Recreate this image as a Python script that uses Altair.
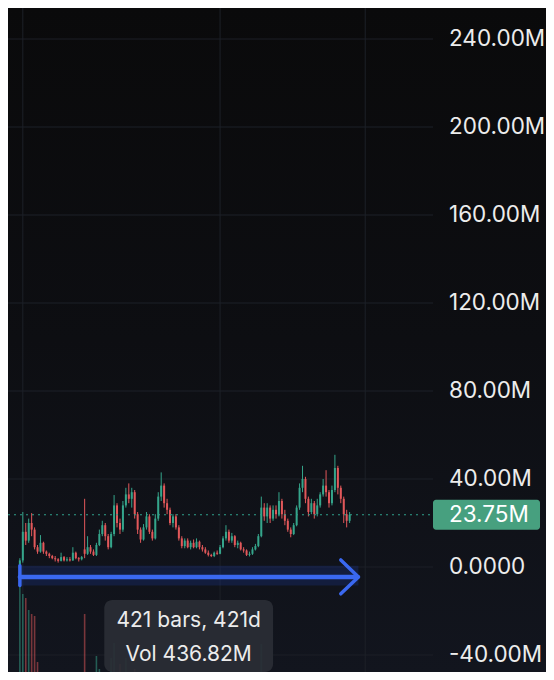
import altair as alt
import pandas as pd

# ---- candle data (price in millions) ----
opens = [0.3, 3, 16, 12, 20, 17, 9, 7, 11, 7, 6, 5, 4, 3.5, 2.8, 4.5, 3, 3.5, 3, 6.5,
         4, 3.5, 8, 6, 9, 7, 5.5, 10, 15, 19, 14, 9, 15, 28, 20, 17, 28, 33, 31, 34,
         24, 17, 12.5, 18, 23, 16, 13, 22, 32, 37, 29, 26, 20, 23, 18, 13, 9.5, 12, 9, 11,
         9, 11.5, 9, 8, 6.5, 5.5, 5, 6.5, 6, 9, 13, 16, 12, 14, 10, 11, 8, 7.5, 5.5, 6,
         8, 9.5, 14, 27, 23, 27, 22, 26, 24, 30, 24, 21, 17, 15, 19, 27, 36, 40, 31, 25,
         29, 24, 28, 33, 37, 34, 29, 35, 45, 36, 31, 24, 21]
highs = [4, 25, 20, 22, 24.5, 18, 10, 14.5, 11.5, 7.5, 6.5, 5.5, 5, 4, 6.5, 5, 4.5, 4.5, 9, 7,
         4.5, 5, 31, 14, 10, 8, 11, 17, 21, 20, 15, 16, 32.7, 29, 22, 30, 36, 38, 36, 35,
         25, 18, 19.5, 25, 24, 17, 24, 34, 43, 38, 31, 27, 24, 24, 19, 14, 13, 13, 12, 12.5,
         13, 12, 10, 9, 7.5, 6, 7, 7.5, 10, 14, 19, 17, 15.5, 14.5, 12, 11.5, 9, 8, 7, 9,
         10.5, 15, 32, 29, 29, 28, 28, 28, 34, 31, 26, 22, 18, 20, 28, 38, 46, 41, 32, 31,
         30, 31, 34, 40, 44, 35, 37, 51, 46, 37, 32, 26, 25]
lows = [0, 2, 10, 11, 14, 8, 6, 6.5, 6, 5, 4, 3.5, 2.5, 2, 2.5, 2.5, 2.5, 2.5, 2.8, 3.5,
        2.5, 3, 4, 5.5, 6, 5, 5, 9.5, 14, 12, 8, 8.5, 14, 18, 15, 16, 27, 29, 27, 22,
        15, 11, 12, 17, 15, 12, 12.5, 21, 30, 27, 24, 19, 18, 17, 12, 8.5, 8.5, 8.5, 8, 8.5,
        8.5, 8, 7, 6, 4.8, 4.5, 4.5, 5.5, 5.8, 8.5, 12, 11, 11, 9, 8.5, 7.5, 6.5, 5, 4.8, 5.5,
        7.5, 9, 13.5, 21, 20, 20, 21, 22, 23, 22, 19, 16, 13.5, 14.5, 18.5, 26, 34, 29, 23, 24,
        22, 23, 27, 32, 32, 27, 28, 34, 33, 29, 20, 18, 20]
closes = [3, 16, 12, 20, 17, 9, 7, 11, 7, 6, 5, 4, 3.5, 2.8, 4.5, 3, 3.5, 3, 6.5, 4,
          3.5, 4.5, 6, 9, 7, 5.5, 10, 15, 19, 14, 9, 15, 28, 20, 17, 28, 33, 31, 34, 24,
          17, 12.5, 18, 23, 16, 13, 22, 32, 37, 29, 26, 20, 23, 18, 13, 9.5, 12, 9, 11, 9,
          11.5, 9, 8, 6.5, 5.5, 5, 6.5, 6, 9, 13, 16, 12, 14, 10, 11, 8, 7.5, 5.5, 6, 8,
          9.5, 14, 27, 23, 27, 22, 26, 24, 30, 24, 21, 17, 15, 19, 27, 36, 40, 31, 25, 29,
          24, 28, 33, 37, 34, 29, 35, 45, 36, 31, 24, 21, 23.75]
volumes = [5.2, 4.6, 4.4, 3.8, 3.6, 3.5, 1.2, 0.4, 0.3, 0.2, 0.15, 0.2, 0.15, 0.1, 0.12, 0.1, 0.15, 0.1, 0.25, 0.5,
           0.2, 0.15, 3.6, 0.4, 0.3, 0.2, 1.5, 0.85, 0.3, 0.3, 0.5, 1.4, 2.15, 0.5, 1.1, 0.5, 1.4, 0.65, 0.4, 0.85,
           0.3, 0.2, 0.2, 0.3, 0.2, 0.2, 0.3, 0.3, 0.5, 0.3, 0.2, 0.2, 0.15, 0.2, 0.25, 0.2, 0.15, 0.1, 0.15, 0.1,
           0.15, 0.1, 0.1, 0.1, 0.1, 0.1, 0.12, 0.1, 0.15, 0.2, 0.3, 0.2, 0.15, 0.15, 0.1, 0.1, 0.1, 0.1, 0.1, 0.15,
           0.2, 0.3, 2.1, 0.4, 0.3, 0.3, 0.25, 0.2, 0.4, 0.3, 0.2, 0.2, 0.15, 0.2, 0.3, 0.4, 0.35, 0.3, 0.2, 0.2,
           0.2, 0.2, 0.25, 0.3, 0.25, 0.2, 0.2, 0.3, 0.3, 0.2, 0.2, 0.15, 0.1]

# ---- axis / annotations ----
tick_values = [240, 200, 160, 120, 80, 40, 0, -40]
tick_labels = ["240.00M", "200.00M", "160.00M", "120.00M", "80.00M", "40.00M", "0.0000", "-40.00M"]
vgrid_bars = [1.0, 68.0, 117.3]
last_price = 23.75
last_label = "23.75M"
measure_start, measure_end, measure_price = 0, 115, -4.5
tooltip_lines = ["421 bars, 421d", "Vol 436.82M"]

W, H = 538, 664
X_DOMAIN = [-2.333, 177.0]
Y_DOMAIN = [-47.73, 254.1]
VOL_K = 9.09                 # price units per 1M of volume in the volume pane
VOL_BASE = -54.1             # volume pane baseline sits just below the visible area

UP, DOWN = "#35a58b", "#e2585a"
GRID = "#1d2028"
BLUE = "#3a68f0"
TXT = "#ececec"
FONT = "Inter"
LABEL_SIZE = 22.5

xs = alt.Scale(domain=X_DOMAIN, nice=False, zero=False)
ys = alt.Scale(domain=Y_DOMAIN, nice=False, zero=False)

df = pd.DataFrame({"i": list(range(len(opens))), "open": opens, "high": highs,
                   "low": lows, "close": closes, "vol": volumes})
ticks = pd.DataFrame({"v": tick_values, "label": tick_labels})
vg = pd.DataFrame({"b": vgrid_bars})
one = pd.DataFrame({"a": [0]})

col = alt.condition("datum.close >= datum.open", alt.value(UP), alt.value(DOWN))

bg = alt.Chart(one).mark_rect(
    color=alt.Gradient(gradient="linear", x1=0, x2=0, y1=0, y2=1,
                       stops=[alt.GradientStop(color="#0a0a0b", offset=0),
                              alt.GradientStop(color="#0d0e12", offset=0.5),
                              alt.GradientStop(color="#12151e", offset=1)])
).encode(x=alt.value(0), x2=alt.value(W), y=alt.value(0), y2=alt.value(H))

hgrid = alt.Chart(ticks).mark_rule(color=GRID, strokeWidth=1).encode(
    y=alt.Y("v:Q", scale=ys, axis=None), x=alt.value(0), x2=alt.value(425))
vgrid = alt.Chart(vg).mark_rule(color=GRID, strokeWidth=1).encode(
    x=alt.X("b:Q", scale=xs, axis=None), y=alt.value(0), y2=alt.value(H))

vol = alt.Chart(df).transform_calculate(
    vtop=f"{VOL_BASE} + datum.vol * {VOL_K}", vbase=f"{VOL_BASE}"
).mark_bar(width=1.6, opacity=0.5, clip=True).encode(
    x=alt.X("i:Q", scale=xs, axis=None),
    y=alt.Y("vtop:Q", scale=ys, axis=None), y2="vbase:Q",
    color=col)

band = alt.Chart(pd.DataFrame({"x": [measure_start], "x2": [measure_end],
                               "y": [0.6], "y2": [-8.4]})).mark_rect(
    color="#1c3590", opacity=0.3).encode(
    x=alt.X("x:Q", scale=xs, axis=None), x2="x2:Q",
    y=alt.Y("y:Q", scale=ys, axis=None), y2="y2:Q")

wick = alt.Chart(df).mark_rule(strokeWidth=1).encode(
    x=alt.X("i:Q", scale=xs, axis=None),
    y=alt.Y("low:Q", scale=ys, axis=None), y2="high:Q", color=col)
body = alt.Chart(df).mark_bar(width=2).encode(
    x=alt.X("i:Q", scale=xs, axis=None),
    y=alt.Y("open:Q", scale=ys, axis=None), y2="close:Q", color=col)

dotted = alt.Chart(pd.DataFrame({"p": [last_price]})).mark_rule(
    color="#2fa08a", strokeDash=[2, 4], strokeWidth=1.2).encode(
    y=alt.Y("p:Q", scale=ys, axis=None), x=alt.value(0), x2=alt.value(422))

labels = alt.Chart(ticks).mark_text(align="left", baseline="middle", fontSize=LABEL_SIZE,
                                    font=FONT, color=TXT).encode(
    y=alt.Y("v:Q", scale=ys, axis=None), x=alt.value(441), text="label:N")

pbox = alt.Chart(pd.DataFrame({"y": [last_price + 6.8], "y2": [last_price - 6.8]})).mark_rect(
    color="#47a07f", cornerRadius=3).encode(
    x=alt.value(425), x2=alt.value(532),
    y=alt.Y("y:Q", scale=ys, axis=None), y2="y2:Q")
ptext = alt.Chart(pd.DataFrame({"p": [last_price], "t": [last_label]})).mark_text(
    align="left", baseline="middle", fontSize=LABEL_SIZE, font=FONT, color="#ffffff").encode(
    y=alt.Y("p:Q", scale=ys, axis=None), x=alt.value(441), text="t:N")

arrow = alt.Chart(pd.DataFrame({
    "x1": [measure_start, 109.0, 115.0, measure_start],
    "x2": [measure_end - 0.5, 115.0, 109.0, measure_start],
    "y1": [measure_price, 3.2, measure_price, 0.6],
    "y2": [measure_price, measure_price, -12.2, -8.4],
    "w": [4.5, 3.5, 3.5, 3.5]})).mark_rule(color=BLUE, strokeCap="round").encode(
    x=alt.X("x1:Q", scale=xs, axis=None), x2="x2:Q",
    y=alt.Y("y1:Q", scale=ys, axis=None), y2="y2:Q",
    strokeWidth=alt.StrokeWidth("w:Q", scale=None, legend=None))

tipbox = alt.Chart(pd.DataFrame({"x": [28.67], "x2": [86.0], "y": [-15.0], "y2": [-47.7]})).mark_rect(
    color="#2a2d35", opacity=0.93, cornerRadius=8).encode(
    x=alt.X("x:Q", scale=xs, axis=None), x2="x2:Q",
    y=alt.Y("y:Q", scale=ys, axis=None), y2="y2:Q")
tiptext = alt.Chart(pd.DataFrame({"t": tooltip_lines, "x": [57.33, 57.33], "y": [-24.5, -40.0]})).mark_text(
    align="center", baseline="middle", fontSize=21, font=FONT, color=TXT).encode(
    x=alt.X("x:Q", scale=xs, axis=None), y=alt.Y("y:Q", scale=ys, axis=None), text="t:N")

chart = alt.layer(
    bg, hgrid, vgrid, vol, band, wick, body, dotted, labels, pbox, ptext,
    arrow, tipbox, tiptext
).properties(
    width=W, height=H, padding=0, autosize="none"
).configure(background="#0b0c0f").configure_view(stroke=None)

chart.save("out.html", embed_options={"renderer": "svg", "actions": False})
